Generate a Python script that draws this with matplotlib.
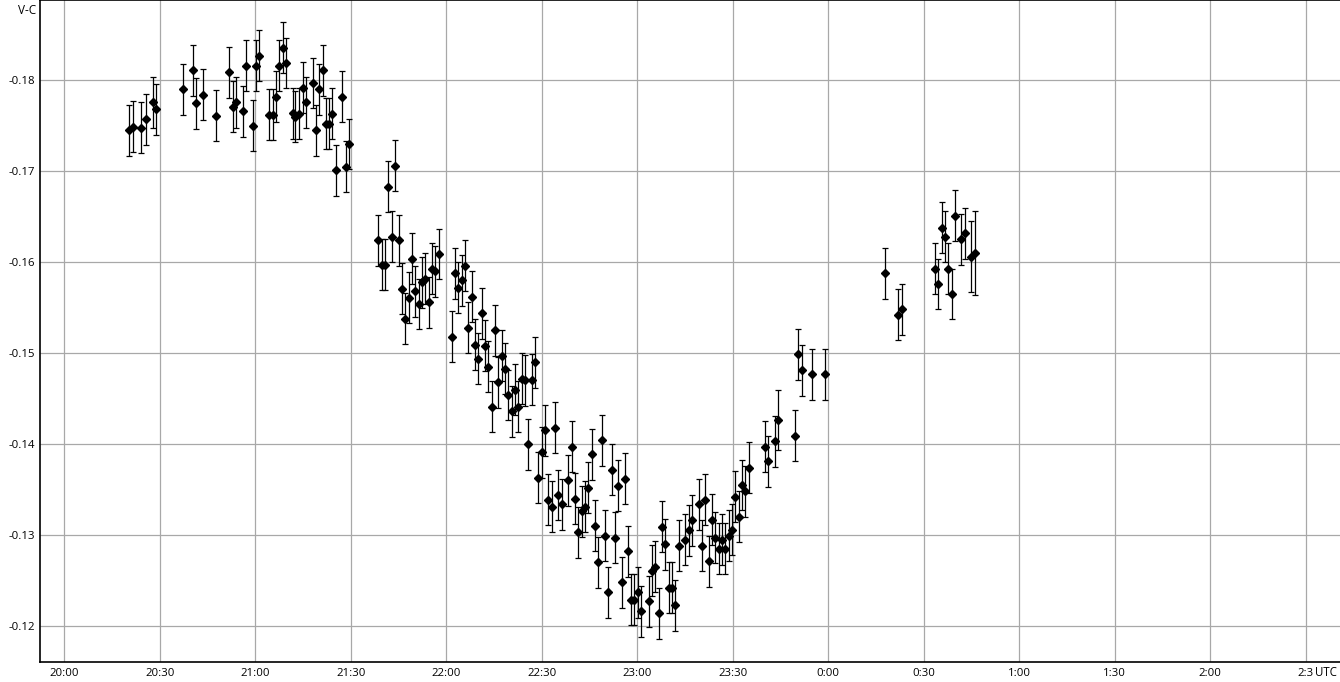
import matplotlib
matplotlib.use("Agg")
import matplotlib.pyplot as plt
from matplotlib.ticker import FixedLocator

# ---- data: time in minutes after 20:00 UTC, V-C magnitude, error ----
t_s1 = [20.2, 21.6, 24.1, 25.6, 27.8, 28.8, 37.3, 40.4, 41.4, 43.6, 47.7, 51.7, 52.9, 53.9,
        56.1, 57.0, 59.3, 60.1, 61.2, 64.3, 65.6, 66.5, 67.5, 68.6, 69.6, 71.8, 72.6, 73.7,
        74.9, 75.9, 78.0, 79.1, 80.0, 81.2, 82.2, 83.2, 84.1, 85.4, 87.2, 88.5, 89.4]
v_s1 = [-0.1745, -0.1749, -0.1748, -0.1757, -0.1776, -0.1768, -0.1790, -0.1811, -0.1775,
        -0.1784, -0.1761, -0.1809, -0.1771, -0.1776, -0.1766, -0.1816, -0.1750, -0.1816,
        -0.1827, -0.1762, -0.1762, -0.1782, -0.1816, -0.1836, -0.1819, -0.1764, -0.1760,
        -0.1763, -0.1792, -0.1776, -0.1797, -0.1745, -0.1790, -0.1811, -0.1752, -0.1752,
        -0.1763, -0.1701, -0.1782, -0.1705, -0.1730]
e_s1 = [0.0028] * len(t_s1)

t_s2 = [98.6, 99.8, 100.8, 101.7, 103.0, 103.9, 105.2, 106.1, 107.0, 108.3, 109.2, 110.2,
        111.4, 112.4, 113.3, 114.6, 115.5, 116.5, 117.7]
v_s2 = [-0.1624, -0.1597, -0.1597, -0.1683, -0.1628, -0.1706, -0.1624, -0.1571, -0.1538,
        -0.1561, -0.1604, -0.1568, -0.1554, -0.1578, -0.1582, -0.1556, -0.1593, -0.1590,
        -0.1609]
e_s2 = [0.0028] * len(t_s2)

t_s3 = [121.8, 122.8, 123.7, 125.0, 125.9, 126.8, 128.1, 129.0, 130.0, 131.2,
        132.2, 133.1, 134.4, 135.3, 136.3, 137.5, 138.5, 139.4, 140.7, 141.6,
        142.5, 143.8, 144.7, 145.7, 146.9, 147.9, 148.8, 150.1, 151.0, 152.0,
        153.2, 154.2, 155.1, 156.4, 158.3, 159.5, 160.5, 161.4, 162.7, 163.6,
        164.5, 165.8, 166.7, 167.7, 168.9, 169.9, 170.8, 172.1, 173.0, 174.0,
        175.2, 176.2, 177.1, 178.0, 179.0, 180.2, 181.2, 183.7, 184.6, 185.6,
        186.8, 187.8, 188.7, 190.0, 190.9, 191.9, 193.1, 195.0, 196.3, 197.2,
        199.4, 200.4, 201.3, 202.5, 203.5, 204.4, 205.6, 206.6, 207.6, 208.7,
        209.8, 210.7, 211.9, 212.9, 213.9, 215.0, 220.1, 221.1, 223.3, 224.2,
        229.6, 230.5, 231.8, 234.9, 239.0]
v_s3 = [-0.1518, -0.1588, -0.1572, -0.1580, -0.1596, -0.1528, -0.1562, -0.1509, -0.1494, -0.1544,
        -0.1508, -0.1485, -0.1441, -0.1525, -0.1468, -0.1497, -0.1483, -0.1454, -0.1436, -0.1460,
        -0.1441, -0.1472, -0.1470, -0.1400, -0.1471, -0.1490, -0.1363, -0.1391, -0.1415, -0.1339,
        -0.1331, -0.1418, -0.1344, -0.1334, -0.1360, -0.1397, -0.1340, -0.1303, -0.1326, -0.1331,
        -0.1352, -0.1389, -0.1310, -0.1270, -0.1404, -0.1299, -0.1237, -0.1372, -0.1297, -0.1354,
        -0.1248, -0.1362, -0.1282, -0.1229, -0.1229, -0.1237, -0.1216, -0.1227, -0.1261, -0.1265,
        -0.1214, -0.1309, -0.1290, -0.1242, -0.1242, -0.1223, -0.1288, -0.1295, -0.1305, -0.1316,
        -0.1334, -0.1288, -0.1339, -0.1271, -0.1317, -0.1297, -0.1285, -0.1295, -0.1285, -0.1299,
        -0.1306, -0.1342, -0.1320, -0.1355, -0.1348, -0.1374, -0.1397, -0.1381, -0.1403, -0.1426,
        -0.1409, -0.1499, -0.1481, -0.1477, -0.1477]
e_s3 = [0.0028] * 89 + [0.0033] + [0.0028] * 5

t_s4 = [257.7, 261.9, 263.2, 273.5, 274.4, 275.7, 276.6, 277.5, 278.8, 279.7, 281.6,
        282.9, 284.8, 286.0]
v_s4 = [-0.1588, -0.1542, -0.1548, -0.1593, -0.1576, -0.1638, -0.1628, -0.1593, -0.1565,
        -0.1651, -0.1625, -0.1632, -0.1606, -0.1610]
e_s4 = [0.0028] * 12 + [0.0039, 0.0046]

x_ticks = [0, 30, 60, 90, 120, 150, 180, 210, 240, 270, 300, 330, 360, 390]
x_labels = ["20:00", "20:30", "21:00", "21:30", "22:00", "22:30", "23:00", "23:30",
            "0:00", "0:30", "1:00", "1:30", "2:00", "2:3"]
y_ticks = [-0.18, -0.17, -0.16, -0.15, -0.14, -0.13, -0.12]

plt.rcParams['font.family'] = ['Open Sans', 'DejaVu Sans']

W, H = 1340, 682
fig = plt.figure(figsize=(W / 100, H / 100), dpi=100)
left, bottom_px, top_px = 40.3, 662, 0
ax = fig.add_axes([left / W, (H - bottom_px) / H, (W - left) / W, (bottom_px - top_px) / H])

for t, v, e in [(t_s1, v_s1, e_s1), (t_s2, v_s2, e_s2), (t_s3, v_s3, e_s3), (t_s4, v_s4, e_s4)]:
    assert len(t) == len(v) == len(e)
    ax.errorbar(t, v, yerr=e, fmt='D', color='black', markersize=3.6,
                elinewidth=0.9, capsize=2.2, capthick=0.9, ecolor='black', zorder=3)

ax.set_xlim(-7.54, 400.8)
ax.set_ylim(-0.11604, -0.18883)
ax.xaxis.set_major_locator(FixedLocator(x_ticks))
ax.set_xticklabels(x_labels)
ax.yaxis.set_major_locator(FixedLocator(y_ticks))
ax.set_yticklabels([f"{y:.2f}" for y in y_ticks])
ax.tick_params(axis='both', length=0, labelsize=8.2, colors='black', pad=4)
ax.tick_params(axis='x', pad=4)
ax.grid(True, color='#a8a8a8', linewidth=0.9, zorder=0)
ax.set_axisbelow(True)
for s in ['left', 'bottom', 'top']:
    ax.spines[s].set_color('black')
    ax.spines[s].set_linewidth(1.2)
ax.spines['right'].set_visible(False)

fig.text(36 / W, 1 - 10 / H, "V-C", ha='right', va='center', fontsize=8.5)
fig.text(1337 / W, 1 - 673 / H, "UTC", ha='right', va='center', fontsize=8.3)

fig.savefig("out.png", dpi=100)
